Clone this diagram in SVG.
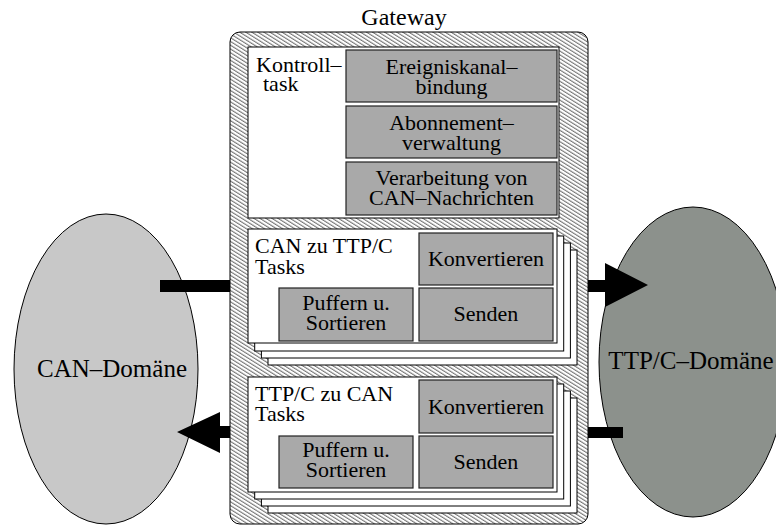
<svg xmlns="http://www.w3.org/2000/svg" width="776" height="526" viewBox="0 0 776 526">
<style>
text{font-family:"Liberation Serif","Times New Roman",serif;fill:#000}
.t22{font-size:22px}
.mid{text-anchor:middle}
.wbox{fill:#fff;stroke:#000;stroke-width:1}
.gbox{fill:#a9a9a9;stroke:#222;stroke-width:1.2}
.arrow{fill:#000}
</style>
<defs>
<pattern id="hatch" patternUnits="userSpaceOnUse" width="3.2" height="3.2" patternTransform="rotate(-58)">
<rect width="3.2" height="3.2" fill="#fff"/>
<line x1="0.6" y1="0" x2="0.6" y2="3.2" stroke="#555" stroke-width="0.9"/>
</pattern>
</defs>
<g id="can-domain">
<ellipse cx="106" cy="369" rx="92" ry="155" fill="#c8c8c8" stroke="#000" stroke-width="1"/>
<text x="112" y="377" class="mid" font-size="25">CAN–Domäne</text>
</g>
<g id="ttpc-domain">
<ellipse cx="693" cy="362" rx="94" ry="155" fill="#8c918c" stroke="#000" stroke-width="1"/>
<text x="691" y="369" class="mid" font-size="25">TTP/C–Domäne</text>
</g>
<g id="connectors">
<rect class="arrow" x="160" y="280" width="88" height="12"/>
<polygon class="arrow" points="577,280 605,280 605,263 648,285 605,307 605,292 577,292"/>
<polygon class="arrow" points="248,426 220,426 220,412 177,432 220,453 220,438 248,438"/>
<rect class="arrow" x="577" y="427" width="46" height="11"/>
</g>
<g id="gateway">
<rect x="230" y="32" width="358" height="492" rx="10" ry="10" fill="url(#hatch)" stroke="#000" stroke-width="1"/>
<text x="404" y="25" class="mid" font-size="24">Gateway</text>
</g>
<g id="kontrolltask">
<rect class="wbox" x="248" y="47" width="311" height="171"/>
<text class="t22" x="256" y="72">Kontroll–</text>
<text class="t22" x="263" y="91">task</text>
<g id="ereigniskanalbindung">
<rect class="gbox" x="346" y="50" width="211" height="52"/>
<text class="t22 mid" x="451.5" y="74">Ereigniskanal–</text>
<text class="t22 mid" x="451.5" y="94">bindung</text>
</g>
<g id="abonnementverwaltung">
<rect class="gbox" x="346" y="106" width="211" height="52"/>
<text class="t22 mid" x="451.5" y="130">Abonnement–</text>
<text class="t22 mid" x="451.5" y="150">verwaltung</text>
</g>
<g id="verarbeitung">
<rect class="gbox" x="346" y="162" width="211" height="53"/>
<text class="t22 mid" x="451.5" y="185">Verarbeitung von</text>
<text class="t22 mid" x="451.5" y="205">CAN–Nachrichten</text>
</g>
</g>
<g id="can-to-ttpc">
<rect class="wbox" x="268" y="250" width="309" height="115"/>
<rect class="wbox" x="261.4" y="243" width="309" height="115"/>
<rect class="wbox" x="254.7" y="236" width="309" height="115"/>
<rect class="wbox" x="248" y="229" width="309" height="114"/>
<text class="t22" x="255" y="253">CAN zu TTP/C</text>
<text class="t22" x="255" y="274">Tasks</text>
<g id="can-konvertieren">
<rect class="gbox" x="419" y="233" width="134" height="52"/>
<text class="t22 mid" x="486" y="266">Konvertieren</text>
</g>
<g id="can-senden">
<rect class="gbox" x="419" y="288" width="134" height="53"/>
<text class="t22 mid" x="486" y="321">Senden</text>
</g>
<g id="can-puffern">
<rect class="gbox" x="279" y="288" width="134" height="53"/>
<text class="t22 mid" x="346" y="310">Puffern u.</text>
<text class="t22 mid" x="346" y="330">Sortieren</text>
</g>
</g>
<g id="ttpc-to-can">
<rect class="wbox" x="268" y="398" width="309" height="115"/>
<rect class="wbox" x="261.4" y="391" width="309" height="115"/>
<rect class="wbox" x="254.7" y="384" width="309" height="115"/>
<rect class="wbox" x="248" y="377" width="309" height="115"/>
<text class="t22" x="255" y="401">TTP/C zu CAN</text>
<text class="t22" x="255" y="421">Tasks</text>
<g id="ttpc-konvertieren">
<rect class="gbox" x="419" y="380" width="134" height="53"/>
<text class="t22 mid" x="486" y="414">Konvertieren</text>
</g>
<g id="ttpc-senden">
<rect class="gbox" x="419" y="436" width="134" height="52"/>
<text class="t22 mid" x="486" y="469">Senden</text>
</g>
<g id="ttpc-puffern">
<rect class="gbox" x="279" y="436" width="134" height="52"/>
<text class="t22 mid" x="346" y="457">Puffern u.</text>
<text class="t22 mid" x="346" y="477">Sortieren</text>
</g>
</g>
</svg>
